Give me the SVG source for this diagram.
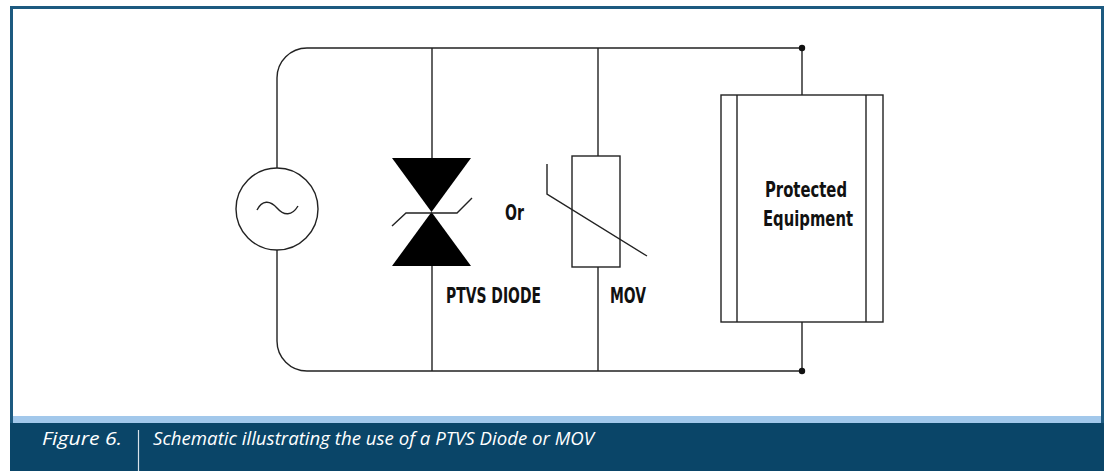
<svg xmlns="http://www.w3.org/2000/svg" width="1108" height="471" viewBox="0 0 1108 471">
<style>
.w{fill:none;stroke:#222;stroke-width:1.4}
.lbl{font-family:"DejaVu Sans Condensed","DejaVu Sans",sans-serif;font-weight:bold;font-stretch:condensed;font-size:21px;fill:#111}
.cap{font-family:"Open Sans","Noto Sans",sans-serif;font-style:italic;font-size:19px;fill:#fff}
</style>
<rect width="1108" height="471" fill="#fff"/>
<rect x="11.5" y="7.5" width="1091" height="416" fill="#fff" stroke="#1d5a80" stroke-width="3"/>
<rect x="13" y="416" width="1088" height="7" fill="#a2c8eb"/>
<rect x="10" y="423" width="1094" height="48" fill="#0a4568"/>
<line x1="138.5" y1="430" x2="138.5" y2="471" stroke="#d8e2ea" stroke-width="1.2"/>
<text class="cap" x="42" y="445" textLength="80" lengthAdjust="spacingAndGlyphs">Figure 6.</text>
<text class="cap" x="153" y="445" textLength="441" lengthAdjust="spacingAndGlyphs">Schematic illustrating the use of a PTVS Diode or MOV</text>
<g id="connectors">
<path class="w" d="M802 48 H307 A30 30 0 0 0 277 78 V168"/>
<path class="w" d="M277 250 V341 A30 30 0 0 0 307 371 H802"/>
<line class="w" x1="432" y1="48" x2="432" y2="158"/>
<line class="w" x1="432" y1="266" x2="432" y2="371"/>
<line class="w" x1="598" y1="48" x2="598" y2="156"/>
<line class="w" x1="598" y1="267" x2="598" y2="371"/>
<line class="w" x1="802" y1="48" x2="802" y2="95"/>
<line class="w" x1="802" y1="322" x2="802" y2="371"/>
<circle cx="802" cy="48" r="3.2" fill="#111"/>
<circle cx="802" cy="371" r="3.2" fill="#111"/>
</g>
<g id="source">
<circle class="w" cx="277" cy="209" r="41"/>
<path class="w" d="M257 210 C262 200 270 200 277 208 C284 216 292 216 298 206"/>
</g>
<g id="ptvs">
<polygon points="392,158 471,158 431.5,212" fill="#000"/>
<polygon points="392,266 471,266 431.5,212" fill="#000"/>
<polyline class="w" points="392,226 406,213 457,213 472,198"/>
<text class="lbl" x="446" y="303" textLength="95" lengthAdjust="spacingAndGlyphs">PTVS DIODE</text>
</g>
<g id="or">
<text class="lbl" x="505" y="220" textLength="19" lengthAdjust="spacingAndGlyphs">Or</text>
</g>
<g id="mov">
<rect class="w" x="572" y="156" width="48" height="111"/>
<polyline class="w" points="547,164 547,194 647,256"/>
<text class="lbl" x="610" y="303" textLength="36" lengthAdjust="spacingAndGlyphs">MOV</text>
</g>
<g id="equipment">
<rect class="w" x="721" y="95" width="162" height="227"/>
<line class="w" x1="737" y1="95" x2="737" y2="322"/>
<line class="w" x1="866" y1="95" x2="866" y2="322"/>
<text class="lbl" x="765" y="197" textLength="82" lengthAdjust="spacingAndGlyphs">Protected</text>
<text class="lbl" x="763" y="226" textLength="90" lengthAdjust="spacingAndGlyphs">Equipment</text>
</g>
</svg>
